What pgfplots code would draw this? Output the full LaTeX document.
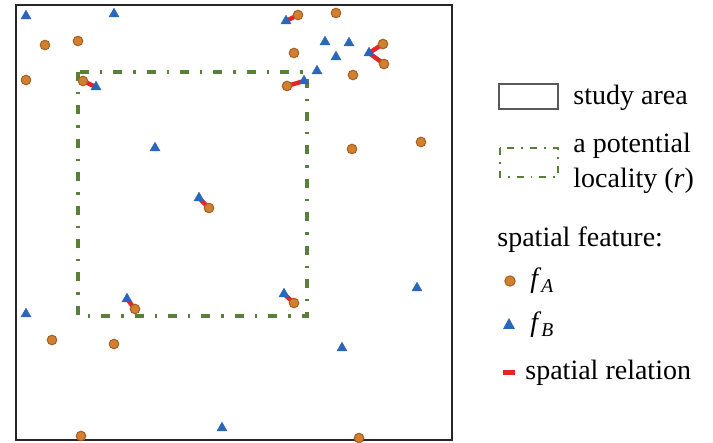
\documentclass[border=0pt]{standalone}
\usepackage{fontspec}
\setmainfont{Liberation Serif}
\usepackage{pgfplots}
\pgfplotsset{compat=1.18}
\definecolor{fa}{RGB}{208,128,48}
\definecolor{faedge}{RGB}{165,95,35}
\definecolor{fb}{RGB}{42,102,185}
\definecolor{rel}{RGB}{232,35,40}
\definecolor{loc}{RGB}{88,128,56}
\begin{document}
\begin{tikzpicture}
\begin{axis}[
  scale only axis, width=218pt, height=217.5pt,
  xmin=16, xmax=452, ymin=5, ymax=440, y dir=reverse,
  axis line style={line width=1pt, black!85},
  xtick=\empty, ytick=\empty, clip=false,
  font=\fontsize{14}{17.5}\selectfont
]
\path (axis cs:0,0) rectangle (axis cs:713,442);
% potential locality
\draw[loc, line width=1.7pt, dash pattern=on 4.5pt off 5.5pt on 1.2pt off 5.5pt]
  (axis cs:78,72) rectangle (axis cs:307,316);
% f_A
\addplot[only marks, mark=*, mark size=2.4pt, mark options={fill=fa, draw=faedge, line width=0.5pt}]
coordinates {(45,45) (78,41) (26,80) (83,81) (298,15) (336,13) (294,53) (383,44) (384,64)
(353,75) (287,86) (352,149) (421,142) (209,208) (294,303) (135,309) (52,340) (114,344)
(81,436) (359,438)};
% f_B
\addplot[only marks, mark=triangle*, mark size=2.9pt, mark options={fill=fb, draw=fb, line width=0.2pt}]
coordinates {(26,16) (114,14) (96,87) (155,148) (286,21) (325,42) (349,43) (336,57) (369,53)
(317,71) (304,81) (199,198) (127,299) (284,294) (417,288) (26,314) (342,348) (222,428)};
% spatial relations
\addplot[rel, line width=2.2pt, shorten <=0.5pt, shorten >=1pt] coordinates {(83,81) (96,87)};
\addplot[rel, line width=2.2pt, shorten <=0.5pt, shorten >=1pt] coordinates {(286,21) (298,15)};
\addplot[rel, line width=2.2pt, shorten <=0.5pt, shorten >=1pt] coordinates {(369,53) (383,44)};
\addplot[rel, line width=2.2pt, shorten <=0.5pt, shorten >=1pt] coordinates {(369,53) (384,64)};
\addplot[rel, line width=2.2pt, shorten <=0.5pt, shorten >=1pt] coordinates {(304,81) (287,86)};
\addplot[rel, line width=2.2pt, shorten <=0.5pt, shorten >=1pt] coordinates {(199,198) (209,208)};
\addplot[rel, line width=2.2pt, shorten <=0.5pt, shorten >=1pt] coordinates {(127,299) (135,309)};
\addplot[rel, line width=2.2pt, shorten <=0.5pt, shorten >=1pt] coordinates {(284,294) (294,303)};
% legend
\draw[black!65, line width=0.6pt] (axis cs:499,84) rectangle (axis cs:558,109);
\node[anchor=base west, inner sep=0] at (axis cs:573,105) {study area};
\draw[loc, line width=1.1pt, dash pattern=on 3.5pt off 3.5pt on 0.9pt off 3.5pt]
  (axis cs:500,148) rectangle (axis cs:558,177);
\node[anchor=base west, inner sep=0] at (axis cs:573,153) {a potential};
\node[anchor=base west, inner sep=0] at (axis cs:573,188) {locality (\textit{r})};
\node[anchor=base west, inner sep=0] at (axis cs:497,247) {spatial feature:};
\fill[fa, draw=faedge, line width=0.5pt] (axis cs:510,281) circle[radius=2.6pt];
\node[anchor=base west, inner sep=0] at (axis cs:530,288) {\textit{f}\textsubscript{\textit{A}}};
\fill[fb] (axis cs:503,329) -- (axis cs:515,329) -- (axis cs:509,318) -- cycle;
\node[anchor=base west, inner sep=0] at (axis cs:530,332) {\textit{f}\textsubscript{\textit{B}}};
\fill[rel] (axis cs:503,370) rectangle (axis cs:515,375);
\node[anchor=base west, inner sep=0] at (axis cs:525,380) {spatial relation};
\end{axis}
\end{tikzpicture}
\end{document}
